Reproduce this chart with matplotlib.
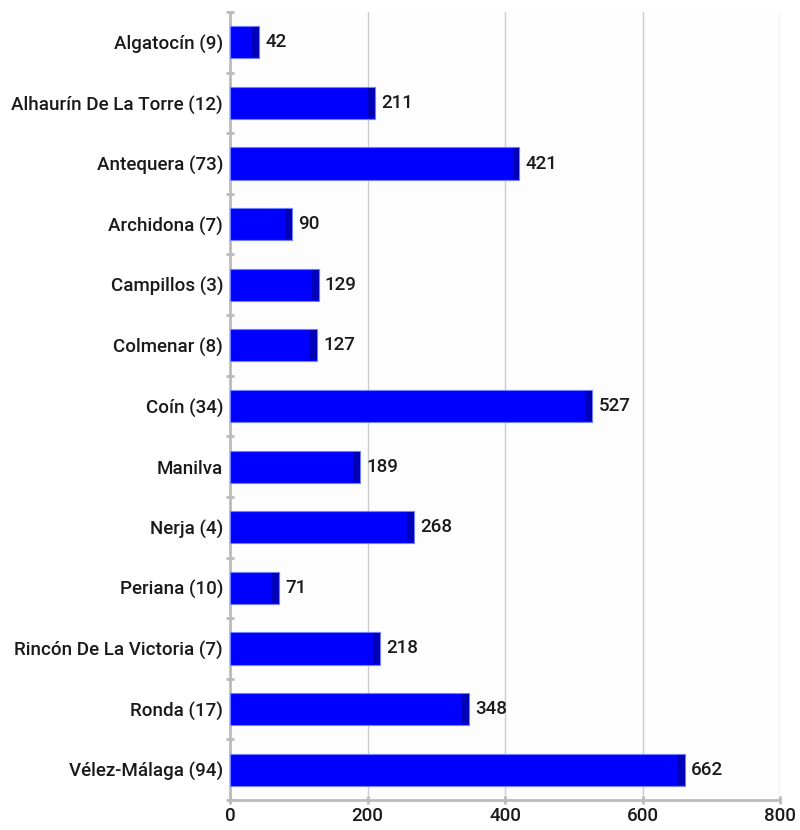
import matplotlib
matplotlib.use("Agg")
import matplotlib.pyplot as plt

categories = ["Algatocín (9)", "Alhaurín De La Torre (12)", "Antequera (73)", "Archidona (7)",
              "Campillos (3)", "Colmenar (8)", "Coín (34)", "Manilva", "Nerja (4)",
              "Periana (10)", "Rincón De La Victoria (7)", "Ronda (17)", "Vélez-Málaga (94)"]
values = [42, 211, 421, 90, 129, 127, 527, 189, 268, 71, 218, 348, 662]
xticks = [0, 200, 400, 600, 800]

plt.rcParams['font.family'] = ["Roboto", 'DejaVu Sans']
plt.rcParams['font.weight'] = 500
FS = 13.5
TC = "#1a1a1a"

fig = plt.figure(figsize=(8, 8.3), dpi=100)
ax = fig.add_axes([230/800, 30/830, 550/800, 788/830])
ax.set_facecolor("#fdfdfd")
n = len(categories)
ys = list(range(n))
h = 0.53
ax.barh(ys, values, height=h, color="#0000ff", edgecolor="#7080ff", linewidth=0.8, zorder=3)
cap = 10
ax.barh(ys, [cap]*n, left=[v - cap for v in values], height=h*0.94, color="#0000b8", linewidth=0, zorder=4)
for y, v in zip(ys, values):
    ax.text(v + 9, y, str(v), va="center", ha="left", fontsize=FS, color=TC, zorder=5)

ax.set_xlim(0, 800)
ax.set_ylim(n - 0.5, -0.5)
ax.set_xticks(xticks)
ax.set_xticklabels([str(t) for t in xticks], fontsize=FS, color=TC)
ax.set_yticks(ys)
ax.set_yticklabels(categories, fontsize=FS, color=TC)
ax.tick_params(axis="y", length=0, pad=5)
ax.set_yticks([i - 0.5 for i in range(n + 1)], minor=True)
ax.tick_params(axis="y", which="minor", length=6, direction="inout", color="#bbbbbb", width=2)
ax.tick_params(axis="x", length=6, direction="inout", color="#bbbbbb", width=2, pad=2)
ax.grid(axis="x", color="#cccccc", linewidth=1, zorder=0)
for s in ["top", "right"]:
    ax.spines[s].set_visible(False)
for s in ["left", "bottom"]:
    ax.spines[s].set_color("#bbbbbb")
    ax.spines[s].set_linewidth(2)
fig.savefig("out.png", dpi=100)
